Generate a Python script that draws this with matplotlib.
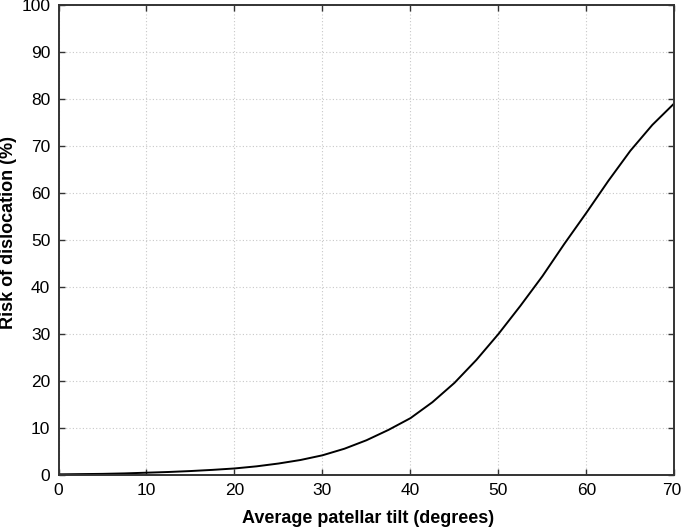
import matplotlib

matplotlib.use("Agg")
import matplotlib.pyplot as plt
import matplotlib.transforms as mtransforms

# values
tilt_deg = [0, 2.5, 5, 7.5, 10, 12.5, 15, 17.5, 20, 22.5, 25, 27.5, 30, 32.5, 35,
            37.5, 40, 42.5, 45, 47.5, 50, 52.5, 55, 57.5, 60, 62.5, 65, 67.5, 70]
risk_pct = [0.15, 0.2, 0.25, 0.35, 0.5, 0.65, 0.85, 1.1, 1.4, 1.85, 2.45, 3.2, 4.2, 5.6, 7.4,
            9.6, 12.1, 15.5, 19.6, 24.5, 30.0, 36.0, 42.3, 49.2, 55.8, 62.6, 69.0, 74.5, 79.1]

x_ticks = [0, 10, 20, 30, 40, 50, 60, 70]
y_ticks = [0, 10, 20, 30, 40, 50, 60, 70, 80, 90, 100]

plt.rcParams["font.family"] = ["Liberation Sans", "DejaVu Sans"]

fig = plt.figure(figsize=(6.82, 5.29), dpi=100)
ax = fig.add_axes([0.0858, 0.102, 0.903, 0.8885])

ax.plot(tilt_deg, risk_pct, color="black", linewidth=1.4, solid_joinstyle="round")

ax.set_xlim(0, 70)
ax.set_ylim(0, 100)
ax.set_xticks(x_ticks)
ax.set_yticks(y_ticks)
ax.grid(True, linestyle=(0, (1, 2)), color="#c8c8c8", linewidth=0.8)

ax.tick_params(direction="in", length=4, width=1, top=True, right=True,
               labelsize=12.5, pad=6, color="#333333")
for side in ax.spines.values():
    side.set_linewidth(1.4)
    side.set_color("#333333")

# keep the last x tick label inside the canvas
last = ax.get_xticklabels()[-1]
last.set_transform(last.get_transform() + mtransforms.ScaledTranslation(-3 / 100, 0, fig.dpi_scale_trans))

ax.set_xlabel("Average patellar tilt (degrees)", fontsize=13, fontweight="bold")
ax.set_ylabel("Risk of dislocation (%)", fontsize=13, fontweight="bold")
ax.xaxis.label.set_va("center")
ax.yaxis.label.set_va("center")
ax.xaxis.set_label_coords(0.503, -0.0915)
ax.yaxis.set_label_coords(-0.081, 0.515)

fig.savefig("out.png", dpi=100)
